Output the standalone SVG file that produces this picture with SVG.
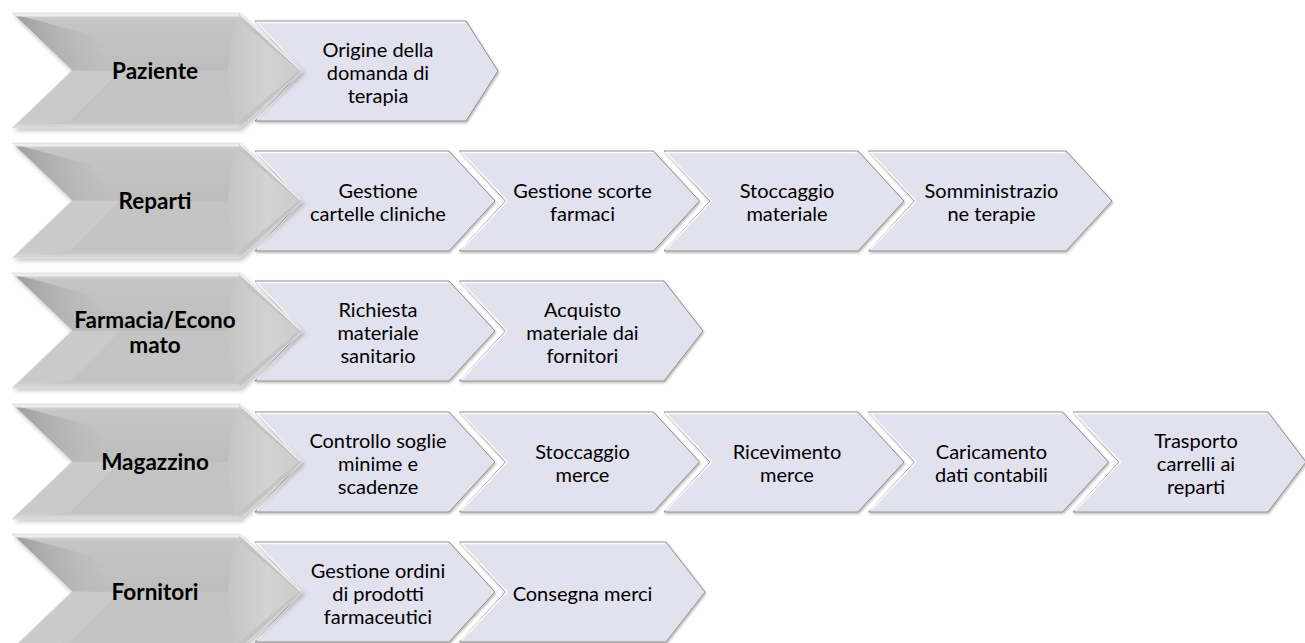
<svg xmlns="http://www.w3.org/2000/svg" xmlns:xlink="http://www.w3.org/1999/xlink" width="1305" height="643" viewBox="0 0 1305 643">
  <style>
    .hdr-text { font-family: Lato, "Liberation Sans", sans-serif; font-weight: 700; font-size: 22.5px; fill: #000; text-anchor: middle; }
    .step-text { font-family: Lato, "Liberation Sans", sans-serif; font-size: 20px; fill: #000; text-anchor: middle; }
    .step { fill: #e2e1ee; stroke: #8e8e8e; stroke-width: 1; filter: url(#stepShadow); }
    .step-hl { fill: none; stroke: #ffffff; stroke-width: 1.5; stroke-opacity: 0.9; }
  </style>
  <defs>
    <filter id="stepShadow" x="-5%" y="-10%" width="115%" height="130%">
      <feDropShadow dx="1" dy="1.5" stdDeviation="1.2" flood-color="#000" flood-opacity="0.28"/>
    </filter>
    <filter id="hdrShadow" x="-5%" y="-10%" width="115%" height="130%">
      <feGaussianBlur stdDeviation="2"/>
    </filter>
    <linearGradient id="hdrBody" x1="0" y1="0" x2="0" y2="1">
      <stop offset="0" stop-color="#dcdcdc"/>
      <stop offset="0.06" stop-color="#c5c5c5"/>
      <stop offset="0.5" stop-color="#bdbdbd"/>
      <stop offset="0.51" stop-color="#c4c4c4"/>
      <stop offset="0.94" stop-color="#c3c3c3"/>
      <stop offset="1" stop-color="#d2d2d2"/>
    </linearGradient>
    <linearGradient id="hdrWedge" x1="12" y1="0" x2="120" y2="0" gradientUnits="userSpaceOnUse">
      <stop offset="0" stop-color="#969696" stop-opacity="0.9"/>
      <stop offset="1" stop-color="#bdbdbd" stop-opacity="0"/>
    </linearGradient>
    <linearGradient id="hdrTip" x1="232" y1="0" x2="303" y2="0" gradientUnits="userSpaceOnUse">
      <stop offset="0" stop-color="#c6c6c6"/>
      <stop offset="0.5" stop-color="#d3d3d3"/>
      <stop offset="1" stop-color="#cbcbcb"/>
    </linearGradient>
    <!-- grey bevelled header chevron, drawn at row origin -->
    <g id="hdrShape">
      <polygon points="14,3 242,3 305,60.5 242,118 14,118 74,60.5" fill="#000" opacity="0.22" filter="url(#hdrShadow)"/>
      <polygon points="12,0 240,0 303,57.5 240,115 12,115 72,57.5" fill="url(#hdrBody)"/>
      <polygon points="13,1 92,22 112,57.5 72,57.5" fill="url(#hdrWedge)"/>
      <polygon points="72,57.5 120,57.5 70,108 14,114" fill="#ffffff" opacity="0.12"/>
      <polygon points="234,3 299,57.5 234,112 228,57.5" fill="url(#hdrTip)"/>
      <polyline points="240,1 301,57.5" fill="none" stroke="#ffffff" stroke-width="1.5" stroke-opacity="0.8"/>
      <polyline points="14,2 239,2" fill="none" stroke="#ececec" stroke-width="3"/>
      <polyline points="15,113 239,113" fill="none" stroke="#d6d6d6" stroke-width="3"/>
      <polygon points="12,0 240,0 303,57.5 240,115 12,115 72,57.5" fill="none" stroke="#e4e4e4" stroke-width="1"/>
    </g>
  </defs>

  <!-- Row 1: Paziente -->
  <g id="row-paziente">
    <g id="paziente-1">
      <polygon class="step" points="255,21 466,21 498,71 466,121 255,121 301,71"/>
      <polyline class="step-hl" points="465,22.5 256.8,22.5 302.5,71 256.8,119.5"/>
      <text class="step-text" x="378" y="56.5">Origine della</text>
      <text class="step-text" x="378" y="79.5">domanda di</text>
      <text class="step-text" x="378" y="102.5">terapia</text>
    </g>
    <g id="paziente">
      <use xlink:href="#hdrShape" y="13"/>
      <text class="hdr-text" x="155" y="79">Paziente</text>
    </g>
  </g>

  <!-- Row 2: Reparti -->
  <g id="row-reparti">
    <g id="reparti-1">
      <polygon class="step" points="255,151 449,151 495,201 449,251 255,251 301,201"/>
      <polyline class="step-hl" points="448,152.5 256.8,152.5 302.5,201 256.8,249.5"/>
      <text class="step-text" x="378" y="198">Gestione</text>
      <text class="step-text" x="378" y="221">cartelle cliniche</text>
    </g>
    <g id="reparti-2">
      <polygon class="step" points="459.5,151 653.5,151 699.5,201 653.5,251 459.5,251 505.5,201"/>
      <polyline class="step-hl" points="652.5,152.5 461.3,152.5 507,201 461.3,249.5"/>
      <text class="step-text" x="582.5" y="198">Gestione scorte</text>
      <text class="step-text" x="582.5" y="221">farmaci</text>
    </g>
    <g id="reparti-3">
      <polygon class="step" points="664,151 858,151 904,201 858,251 664,251 710,201"/>
      <polyline class="step-hl" points="857,152.5 665.8,152.5 711.5,201 665.8,249.5"/>
      <text class="step-text" x="787" y="198">Stoccaggio</text>
      <text class="step-text" x="787" y="221">materiale</text>
    </g>
    <g id="reparti-4">
      <polygon class="step" points="868.5,151 1066,151 1112,201 1066,251 868.5,251 914.5,201"/>
      <polyline class="step-hl" points="1065,152.5 870.3,152.5 916,201 870.3,249.5"/>
      <text class="step-text" x="991.5" y="198">Somministrazio</text>
      <text class="step-text" x="991.5" y="221">ne terapie</text>
    </g>
    <g id="reparti">
      <use xlink:href="#hdrShape" y="143"/>
      <text class="hdr-text" x="155" y="208.5">Reparti</text>
    </g>
  </g>

  <!-- Row 3: Farmacia/Economato -->
  <g id="row-farmacia">
    <g id="farmacia-1">
      <polygon class="step" points="255,281 449,281 495,331 449,381 255,381 301,331"/>
      <polyline class="step-hl" points="448,282.5 256.8,282.5 302.5,331 256.8,379.5"/>
      <text class="step-text" x="378" y="316.5">Richiesta</text>
      <text class="step-text" x="378" y="339.5">materiale</text>
      <text class="step-text" x="378" y="362.5">sanitario</text>
    </g>
    <g id="farmacia-2">
      <polygon class="step" points="459.5,281 664,281 703,331 664,381 459.5,381 505.5,331"/>
      <polyline class="step-hl" points="663,282.5 461.3,282.5 507,331 461.3,379.5"/>
      <text class="step-text" x="582.5" y="316.5">Acquisto</text>
      <text class="step-text" x="582.5" y="339.5">materiale dai</text>
      <text class="step-text" x="582.5" y="362.5">fornitori</text>
    </g>
    <g id="farmacia">
      <use xlink:href="#hdrShape" y="273"/>
      <text class="hdr-text" x="155" y="327.5">Farmacia/Econo</text>
      <text class="hdr-text" x="155" y="352.5">mato</text>
    </g>
  </g>

  <!-- Row 4: Magazzino -->
  <g id="row-magazzino">
    <g id="magazzino-1">
      <polygon class="step" points="255,412 449,412 495,462 449,512 255,512 301,462"/>
      <polyline class="step-hl" points="448,413.5 256.8,413.5 302.5,462 256.8,510.5"/>
      <text class="step-text" x="378" y="447.5">Controllo soglie</text>
      <text class="step-text" x="378" y="470.5">minime e</text>
      <text class="step-text" x="378" y="493.5">scadenze</text>
    </g>
    <g id="magazzino-2">
      <polygon class="step" points="459.5,412 653.5,412 699.5,462 653.5,512 459.5,512 505.5,462"/>
      <polyline class="step-hl" points="652.5,413.5 461.3,413.5 507,462 461.3,510.5"/>
      <text class="step-text" x="582.5" y="459">Stoccaggio</text>
      <text class="step-text" x="582.5" y="482">merce</text>
    </g>
    <g id="magazzino-3">
      <polygon class="step" points="664,412 858,412 904,462 858,512 664,512 710,462"/>
      <polyline class="step-hl" points="857,413.5 665.8,413.5 711.5,462 665.8,510.5"/>
      <text class="step-text" x="787" y="459">Ricevimento</text>
      <text class="step-text" x="787" y="482">merce</text>
    </g>
    <g id="magazzino-4">
      <polygon class="step" points="868.5,412 1062.5,412 1108.5,462 1062.5,512 868.5,512 914.5,462"/>
      <polyline class="step-hl" points="1061.5,413.5 870.3,413.5 916,462 870.3,510.5"/>
      <text class="step-text" x="991.5" y="459">Caricamento</text>
      <text class="step-text" x="991.5" y="482">dati contabili</text>
    </g>
    <g id="magazzino-5">
      <polygon class="step" points="1073,412 1268,412 1306,462 1268,512 1073,512 1119,462"/>
      <polyline class="step-hl" points="1267,413.5 1074.8,413.5 1120.5,462 1074.8,510.5"/>
      <text class="step-text" x="1196" y="447.5">Trasporto</text>
      <text class="step-text" x="1196" y="470.5">carrelli ai</text>
      <text class="step-text" x="1196" y="493.5">reparti</text>
    </g>
    <g id="magazzino">
      <use xlink:href="#hdrShape" y="404"/>
      <text class="hdr-text" x="155" y="469.5">Magazzino</text>
    </g>
  </g>

  <!-- Row 5: Fornitori -->
  <g id="row-fornitori">
    <g id="fornitori-1">
      <polygon class="step" points="255,542 449,542 495,592 449,642 255,642 301,592"/>
      <polyline class="step-hl" points="448,543.5 256.8,543.5 302.5,592 256.8,640.5"/>
      <text class="step-text" x="378" y="577.5">Gestione ordini</text>
      <text class="step-text" x="378" y="600.5">di prodotti</text>
      <text class="step-text" x="378" y="623.5">farmaceutici</text>
    </g>
    <g id="fornitori-2">
      <polygon class="step" points="459.5,542 666,542 705,592 666,642 459.5,642 505.5,592"/>
      <polyline class="step-hl" points="665,543.5 461.3,543.5 507,592 461.3,640.5"/>
      <text class="step-text" x="582.5" y="600.5">Consegna merci</text>
    </g>
    <g id="fornitori">
      <use xlink:href="#hdrShape" y="534"/>
      <text class="hdr-text" x="155" y="599.5">Fornitori</text>
    </g>
  </g>
</svg>
